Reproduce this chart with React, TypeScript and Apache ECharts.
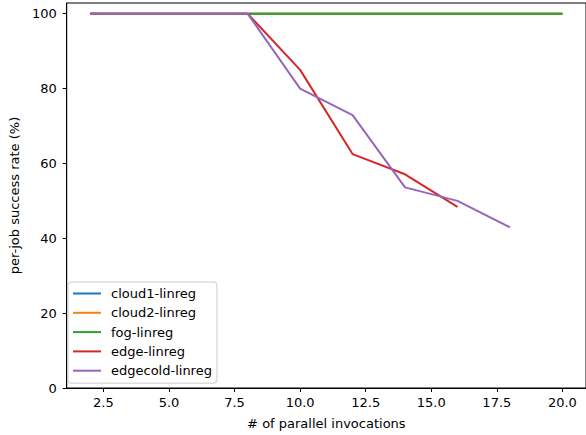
import React, { useEffect, useRef } from "react";
import * as echarts from "echarts";

const xValues = [2, 4, 6, 8, 10, 12, 14, 16, 18, 20];
const cloud1 = [100, 100, 100, 100, 100, 100, 100, 100, 100, 100];
const cloud2 = [100, 100, 100, 100, 100, 100, 100, 100, 100, 100];
const fog = [100, 100, 100, 100, 100, 100, 100, 100, 100, 100];
const edgeX = [2, 4, 6, 8, 10, 12, 14, 16];
const edge = [100, 100, 100, 100, 85, 62.5, 57.1, 48.4];
const edgecoldX = [2, 4, 6, 8, 10, 12, 14, 16, 18];
const edgecold = [100, 100, 100, 100, 80, 72.9, 53.6, 50, 42.9];
const xTicks = [2.5, 5, 7.5, 10, 12.5, 15, 17.5, 20];
const yTicks = [0, 20, 40, 60, 80, 100];

const seriesDefs = [
  { name: "cloud1-linreg", xs: xValues, ys: cloud1, color: "#1f77b4" },
  { name: "cloud2-linreg", xs: xValues, ys: cloud2, color: "#ff7f0e" },
  { name: "fog-linreg", xs: xValues, ys: fog, color: "#2ca02c" },
  { name: "edge-linreg", xs: edgeX, ys: edge, color: "#d62728" },
  { name: "edgecold-linreg", xs: edgecoldX, ys: edgecold, color: "#9467bd" },
];

const FONT = "DejaVu Sans";
const FS = 13;

export default function App() {
  const ref = useRef<HTMLDivElement>(null);
  useEffect(() => {
    if (!ref.current) return;
    const chart = echarts.init(ref.current, null, { renderer: "svg" });
    chart.setOption({
      animation: false,
      textStyle: { fontFamily: FONT },
      grid: {
        left: 62,
        top: 3,
        width: 524,
        height: 386,
        show: true,
        borderColor: "#000",
        borderWidth: 1,
        backgroundColor: "transparent",
      },
      legend: {
        orient: "vertical",
        left: 68,
        top: 282,
        data: seriesDefs.map((s) => ({ name: s.name, icon: "rect" })),
        itemWidth: 28,
        itemHeight: 2,
        itemGap: 4.3,
        padding: [4, 5, 5, 5],
        backgroundColor: "rgba(255,255,255,0.8)",
        borderColor: "#cccccc",
        borderWidth: 1,
        borderRadius: 3,
        textStyle: {
          fontFamily: FONT,
          fontSize: FS,
          color: "#000",
          lineHeight: 15,
          padding: [0, 0, 0, 5],
        },
      },
      xAxis: {
        type: "value",
        min: 1.1,
        max: 20.9,
        name: "# of parallel invocations",
        nameLocation: "middle",
        nameGap: 29,
        nameTextStyle: { fontFamily: FONT, fontSize: FS, color: "#000" },
        axisLine: { show: true, lineStyle: { color: "#000", width: 1 } },
        axisTick: {
          show: true,
          inside: false,
          length: 4,
          customValues: xTicks,
          lineStyle: { color: "#000" },
        },
        axisLabel: {
          customValues: xTicks,
          formatter: (v: number) => v.toFixed(1),
          fontFamily: FONT,
          fontSize: FS,
          color: "#000",
          margin: 8,
        },
        splitLine: { show: false },
      },
      yAxis: {
        type: "value",
        min: 0,
        max: 102.86,
        name: "per-job success rate (%)",
        nameLocation: "middle",
        nameRotate: 90,
        nameGap: 38,
        nameTextStyle: { fontFamily: FONT, fontSize: FS, color: "#000" },
        axisLine: { show: true, lineStyle: { color: "#000", width: 1 } },
        axisTick: {
          show: true,
          inside: false,
          length: 4,
          customValues: yTicks,
          lineStyle: { color: "#000" },
        },
        axisLabel: {
          customValues: yTicks,
          fontFamily: FONT,
          fontSize: FS,
          color: "#000",
          margin: 10,
        },
        splitLine: { show: false },
      },
      series: seriesDefs.map((s) => ({
        name: s.name,
        type: "line",
        data: s.xs.map((x, i) => [x, s.ys[i]]),
        showSymbol: false,
        symbol: "none",
        lineStyle: { color: s.color, width: 2 },
        itemStyle: { color: s.color },
        color: s.color,
      })),
    });
    return () => chart.dispose();
  }, []);
  return (
    <div
      ref={ref}
      style={{ width: 586, height: 435, position: "absolute", left: 0, top: 0 }}
    />
  );
}
